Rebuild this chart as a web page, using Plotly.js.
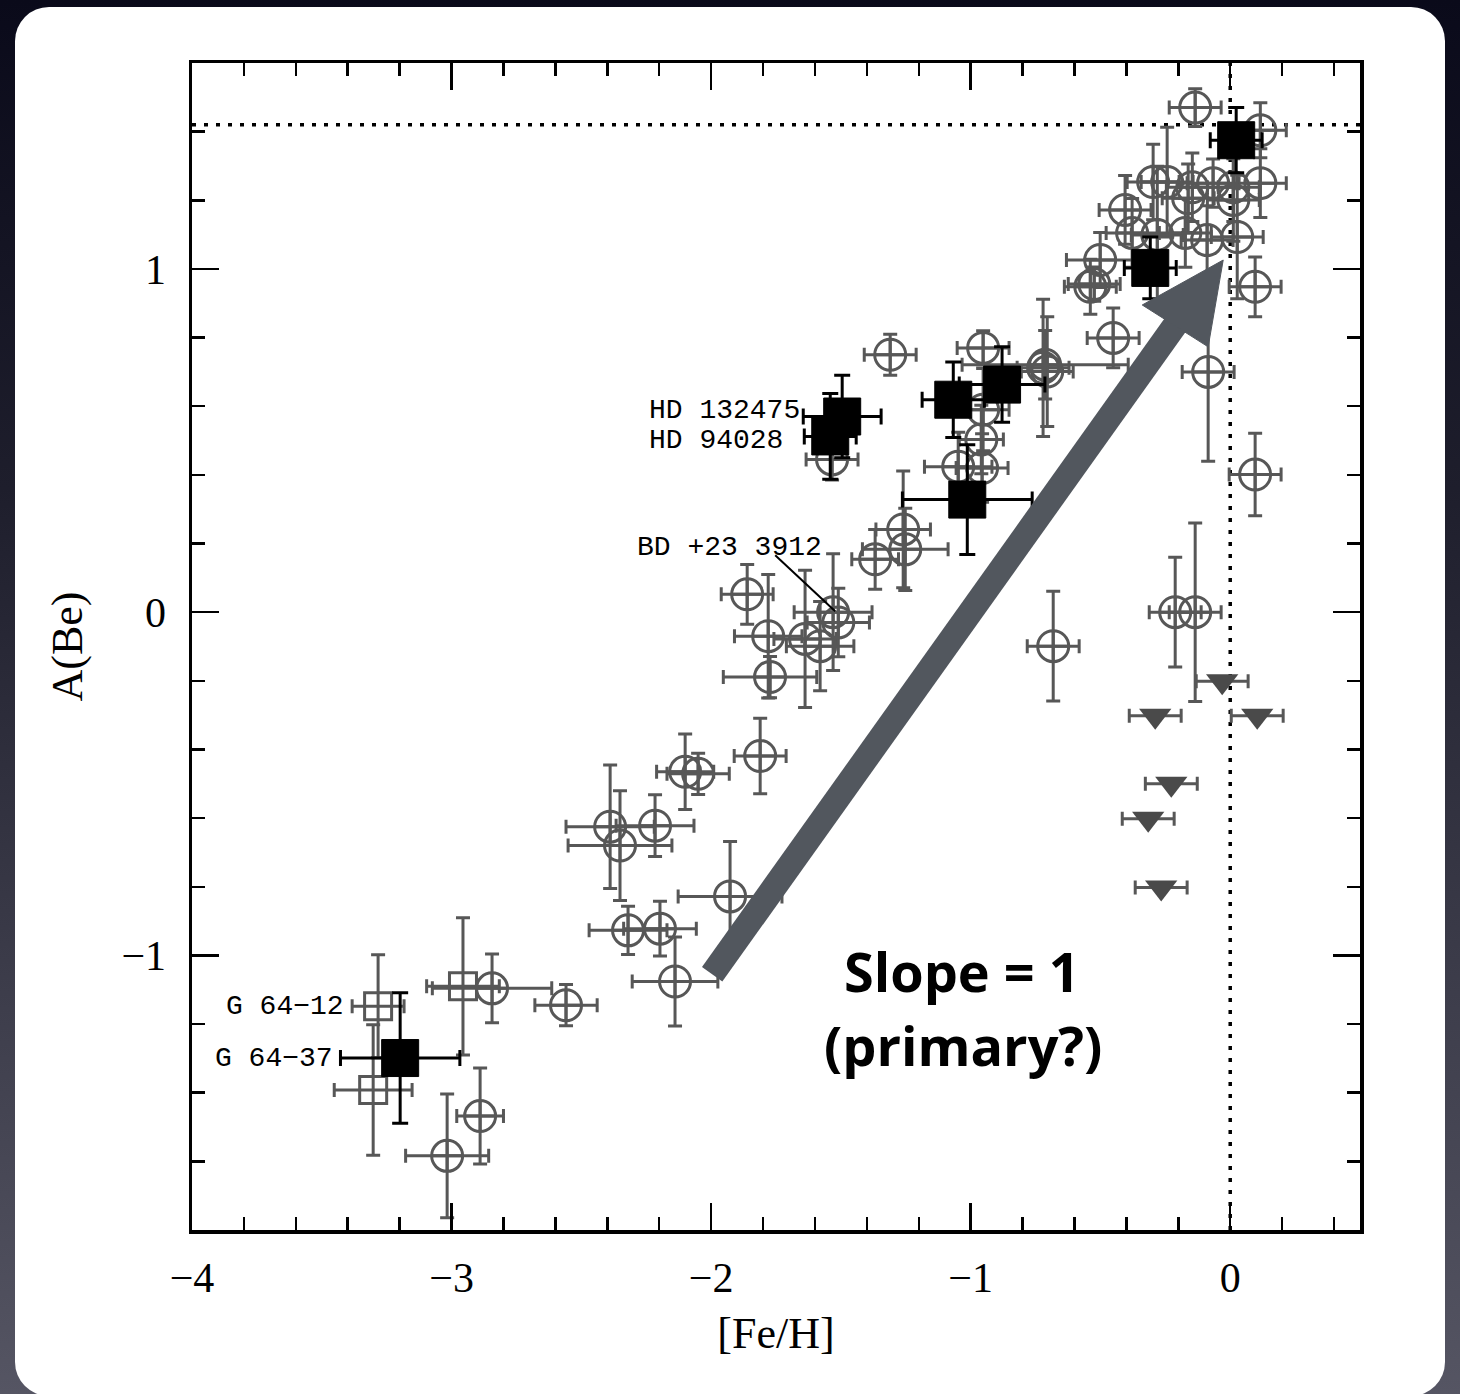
<!DOCTYPE html>
<html><head><meta charset="utf-8">
<script src="https://cdn.plot.ly/plotly-3.0.1.min.js"></script>
<style>
html,body{margin:0;padding:0;width:1460px;height:1394px;overflow:hidden;}
body{background:linear-gradient(180deg,#0a0a1a 0%,#1e1e2c 35%,#3c3c4a 70%,#555563 100%);position:relative;}
#panel{position:absolute;left:15px;top:7px;width:1430px;height:1389px;background:#fff;border-radius:34px;}
#chart{position:absolute;left:0;top:0;width:1460px;height:1394px;}
</style></head><body>
<div id="panel"></div><div id="chart"></div>
<script>
// ---- Open circles (detections) ----
const circFe    = [-2.844,-2.559,-2.890,-3.017,-2.139,-1.927,-2.320,-2.197,-2.389,-2.351,-2.216,-2.100,-2.050,-1.811,
                   -1.861,-1.780,-1.773,-1.638,-1.580,-1.530,-1.510,-1.260,-1.252,-1.368,-1.310,-1.534,
                   -0.952,-0.952,-0.959,-1.048,-0.956,-0.721,-0.705,-0.713,
                   -0.682,-0.212,-0.135,0.096,0.096,-0.085,-0.451,-0.539,-0.524,-0.501,
                   -0.135,0.116,-0.297,-0.243,-0.146,-0.066,0.012,0.116,-0.405,-0.162,0.012,-0.378,-0.281,-0.173,-0.089,0.027];
const circBe    = [-1.096,-1.145,-1.468,-1.584,-1.076,-0.828,-0.927,-0.922,-0.625,-0.680,-0.622,-0.465,-0.471,-0.419,
                   0.052,-0.070,-0.189,-0.078,-0.099,0.000,-0.030,0.241,0.183,0.154,0.750,0.445,
                   0.770,0.590,0.503,0.424,0.420,0.712,0.701,0.721,
                   -0.099,0.000,0.000,0.401,0.948,0.700,0.799,0.948,0.956,1.026,
                   1.470,1.404,1.253,1.253,1.238,1.250,1.238,1.250,1.172,1.206,1.201,1.105,1.099,1.105,1.084,1.093];
const circFeErr = [0.23,0.12,0.09,0.16,0.165,0.20,0.15,0.14,0.17,0.20,0.15,0.11,0.12,0.10,
                   0.10,0.13,0.18,0.12,0.13,0.15,0.12,0.105,0.165,0.09,0.10,0.10,
                   0.10,0.10,0.085,0.13,0.10,0.10,0.10,0.32,
                   0.10,0.10,0.10,0.10,0.10,0.10,0.10,0.10,0.10,0.13,
                   0.10,0.10,0.10,0.10,0.10,0.10,0.10,0.10,0.10,0.10,0.10,0.10,0.10,0.10,0.10,0.10];
const circBeErr = [0.10,0.06,0.14,0.18,0.13,0.16,0.07,0.08,0.18,0.16,0.09,0.11,0.06,0.11,
                   0.087,0.18,0.06,0.20,0.13,0.17,0.10,0.17,0.12,0.087,0.06,0.06,
                   0.05,0.12,0.10,0.10,0.10,0.20,0.16,0.10,
                   0.16,0.16,0.26,0.12,0.087,0.26,0.087,0.08,0.05,0.08,
                   0.055,0.08,0.11,0.16,0.10,0.07,0.10,0.10,0.10,0.10,0.12,0.10,0.20,0.10,0.10,0.18];

// ---- Open squares ----
const sqFe    = [-3.283,-3.302,-2.956];
const sqBe    = [-1.148,-1.392,-1.090];
const sqFeErr = [0.10,0.15,0.14];
const sqBeErr = [0.15,0.19,0.20];

// ---- Filled squares (this work) ----
const blkFe    = [-1.495,-1.541,-1.067,-0.879,-1.013,-0.308,0.023,-3.198];
const blkBe    = [0.570,0.512,0.619,0.663,0.328,1.003,1.375,-1.299];
const blkFeErr = [0.15,0.10,0.12,0.165,0.25,0.10,0.10,0.23];
const blkBeErr = [0.12,0.125,0.11,0.11,0.16,0.09,0.095,0.19];

// ---- Upper limits ----
const limFe    = [-0.031,-0.289,0.104,-0.227,-0.316,-0.266];
const limBe    = [-0.201,-0.302,-0.302,-0.500,-0.602,-0.802];
const limFeErr = [0.10,0.10,0.10,0.10,0.10,0.10];

// ---- Labels ----
const starLabels = ['HD 132475','HD 94028','BD +23 3912','G 64\u221212','G 64\u221237'];
const solarBe = 1.42;
const slopeText = ['Slope = 1','(primary?)'];

const gray = '#575757';
const traces = [
  {x:circFe, y:circBe, type:'scatter', mode:'markers',
   marker:{symbol:'circle-cross-open', size:31, color:gray, line:{width:3, color:gray}},
   error_x:{type:'data', array:circFeErr, color:gray, thickness:3, width:7},
   error_y:{type:'data', array:circBeErr, color:gray, thickness:3, width:7}},
  {x:sqFe, y:sqBe, type:'scatter', mode:'markers',
   marker:{symbol:'square-open', size:27, color:gray, line:{width:3, color:gray}},
   error_x:{type:'data', array:sqFeErr, color:gray, thickness:3, width:7},
   error_y:{type:'data', array:sqBeErr, color:gray, thickness:3, width:7}},
  {x:limFe, y:limBe, type:'scatter', mode:'markers',
   marker:{symbol:'triangle-down', size:28, color:'#4a4a4a', line:{width:0}},
   error_x:{type:'data', array:limFeErr, color:gray, thickness:3, width:7}},
  {x:blkFe, y:blkBe, type:'scatter', mode:'markers',
   marker:{symbol:'square', size:37, color:'#000', line:{width:1, color:'#000'}},
   error_x:{type:'data', array:blkFeErr, color:'#000', thickness:3, width:8},
   error_y:{type:'data', array:blkBeErr, color:'#000', thickness:3, width:8}}
];

const tickFont = {family:'Liberation Serif, DejaVu Serif, serif', size:42, color:'#000'};
const axisCommon = {
  showline:true, linecolor:'#000', linewidth:3.5, mirror:'ticks',
  ticks:'inside', ticklen:27, tickwidth:2.5, tickcolor:'#000',
  showgrid:false, zeroline:false, fixedrange:true, tickfont:tickFont,
  minor:{dtick:0.2, ticks:'inside', ticklen:13, tickwidth:2.5, tickcolor:'#000', showgrid:false}
};
const monoFont = {family:'Liberation Mono, DejaVu Sans Mono, monospace', size:28, color:'#000'};
const slopeFont = {family:'Open Sans, Noto Sans, sans-serif', size:54, color:'#000', weight:700};

const layout = {
  width:1460, height:1394,
  margin:{l:192, r:100, t:63, b:164},
  paper_bgcolor:'rgba(0,0,0,0)', plot_bgcolor:'#fff',
  showlegend:false, hovermode:false,
  xaxis:Object.assign({}, axisCommon, {range:[-4,0.5], dtick:1, tick0:0,
    ticklabelstandoff:8,
    title:{text:'[Fe/H]', font:{family:'Liberation Serif, DejaVu Serif, serif', size:44, color:'#000'}, standoff:18}}),
  yaxis:Object.assign({}, axisCommon, {range:[-1.8,1.6], dtick:1, tick0:0,
    ticklabelstandoff:14,
    title:{text:'A(Be)', font:{family:'Liberation Serif, DejaVu Serif, serif', size:44, color:'#000'}, standoff:26}}),
  shapes:[
    {type:'line', xref:'paper', yref:'y', x0:0, x1:1, y0:solarBe, y1:solarBe, layer:'below',
     line:{color:'#000', width:3.5, dash:'4px,8px'}},
    {type:'line', xref:'x', yref:'paper', x0:0, x1:0, y0:0, y1:1, layer:'below',
     line:{color:'#000', width:3.5, dash:'4px,8px'}},
    {type:'line', xref:'x', yref:'y', x0:-1.753, y0:0.166, x1:-1.522, y1:0.003, layer:'above',
     line:{color:'#000', width:2}},
    {type:'line', xref:'x', yref:'y', x0:-1.996, y0:-1.055, x1:-0.19, y1:0.86, layer:'above',
     line:{color:'#52575e', width:25}},
    {type:'path', xref:'x', yref:'y', layer:'above',
     path:'M -0.027,1.026 L -0.339,0.895 L -0.085,0.773 Z',
     fillcolor:'#52575e', line:{color:'#52575e', width:1}}
  ],
  annotations:[
    {x:-2.247, y:0.587, xref:'x', yref:'y', text:starLabels[0], showarrow:false, xanchor:'left', yanchor:'middle', font:monoFont},
    {x:-2.247, y:0.500, xref:'x', yref:'y', text:starLabels[1], showarrow:false, xanchor:'left', yanchor:'middle', font:monoFont},
    {x:-2.293, y:0.189, xref:'x', yref:'y', text:starLabels[2], showarrow:false, xanchor:'left', yanchor:'middle', font:monoFont},
    {x:-3.877, y:-1.148, xref:'x', yref:'y', text:starLabels[3], showarrow:false, xanchor:'left', yanchor:'middle', font:monoFont},
    {x:-3.919, y:-1.299, xref:'x', yref:'y', text:starLabels[4], showarrow:false, xanchor:'left', yanchor:'middle', font:monoFont},
    {x:-1.033, y:-1.044, xref:'x', yref:'y', text:slopeText[0], showarrow:false, xanchor:'center', yanchor:'middle', font:slopeFont},
    {x:-1.030, y:-1.262, xref:'x', yref:'y', text:slopeText[1], showarrow:false, xanchor:'center', yanchor:'middle', font:slopeFont}
  ]
};

Plotly.newPlot('chart', traces, layout, {displayModeBar:false, staticPlot:true});
</script></body></html>
